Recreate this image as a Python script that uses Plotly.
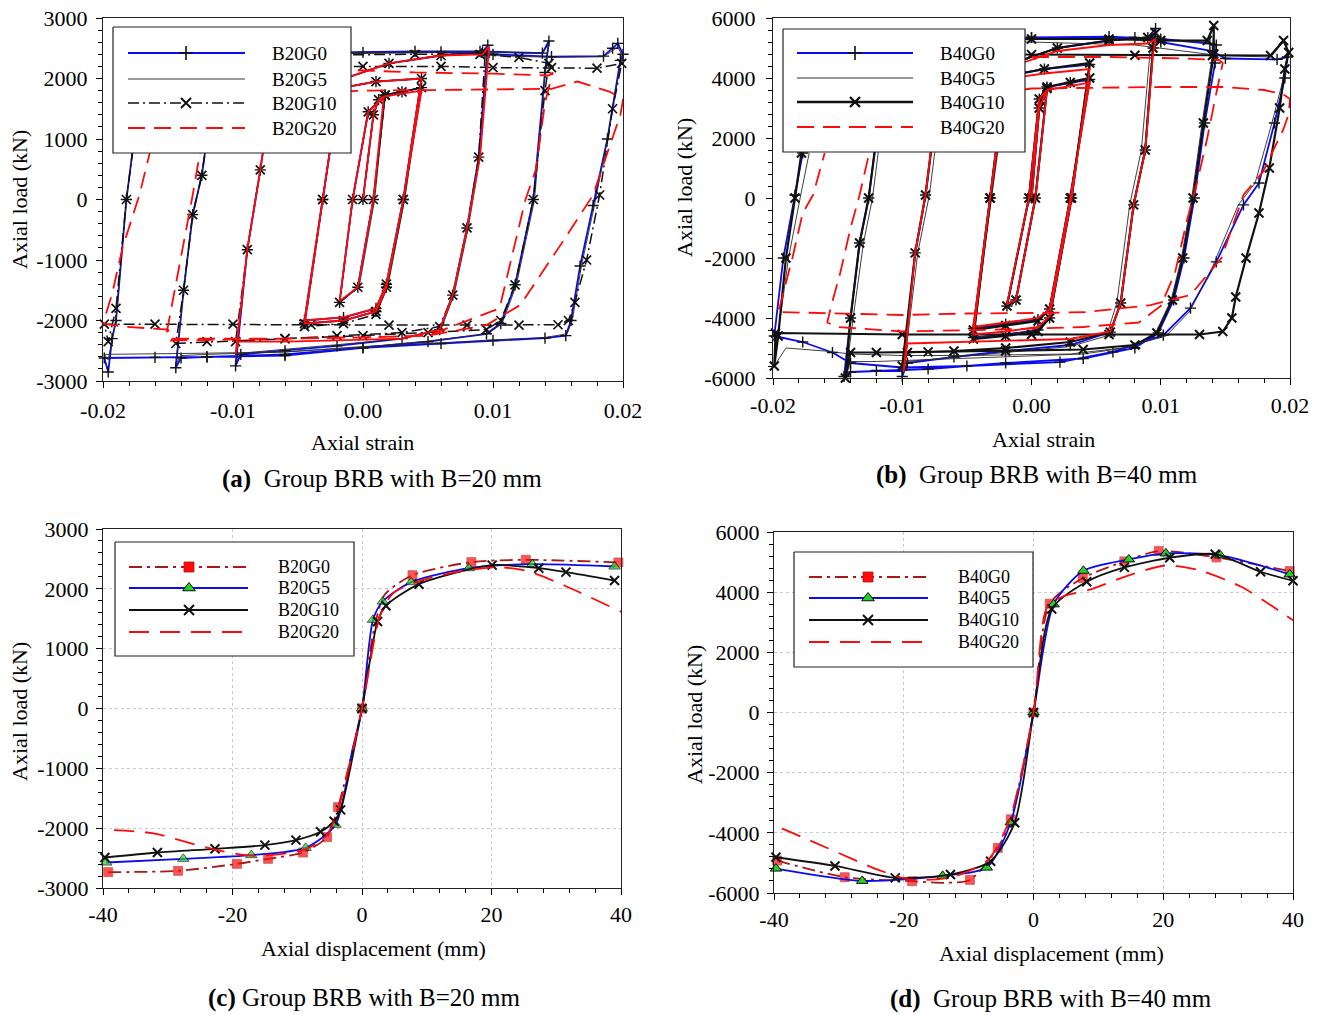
import plotly.graph_objects as go

W, H = 1320, 1015
FONT = "Liberation Serif"

# ---------------------------------------------------------------------------
# (a) hysteresis, B = 20 mm : axial strain vs axial load (kN)
# ---------------------------------------------------------------------------
a_names = ["B20G0", "B20G5", "B20G10", "B20G20"]

a_g0_strain = [
    0, 0.0008, 0.0012, 0.0017,
    0.0008, -0.0004, -0.0018,
    -0.0008, 0.0004, 0.0017,
    0.0030, 0.0045,
    0.0031, 0.0018, 0.0010, -0.0015, -0.0045,
    -0.0031, -0.0022, -0.0015, 0.0010, 0.0045,
    0.0031, 0.0018, 0.0010, -0.0015, -0.0045,
    -0.0031, -0.0022, -0.0014, 0.0020, 0.0060, 0.0092, 0.0096,
    0.0089, 0.0080, 0.0069, 0.0059, 0.0030, -0.0020, -0.0060, -0.0094, -0.0098,
    -0.0089, -0.0079, -0.0070, -0.0064, -0.0020, 0.0040, 0.0090, 0.0138, 0.0143,
    0.0140, 0.0131, 0.0117, 0.0106, 0.0095, 0.0050, 0.0000, -0.0060, -0.0120, -0.0140, -0.0144,
    -0.0138, -0.0131, -0.0124, -0.0115, -0.0108, -0.0060, 0.0000, 0.0060, 0.0100, 0.0145, 0.0185, 0.0192, 0.0196, 0.0200,
    0.0198, 0.0188, 0.0177, 0.0167, 0.0160, 0.0156, 0.0140, 0.0100, 0.0060, 0.0000, -0.0060, -0.0120, -0.0160, -0.0199, -0.0196,
    -0.0193, -0.0190, -0.0182, -0.0176, -0.0170,
]
a_g0_load = [
    0, 1400, 1650, 1720,
    0, -1450, -1700,
    0, 1450, 1730,
    1780, 1850,
    0, -1400, -1800, -1950, -2000,
    0, 1300, 1850, 1950, 2000,
    0, -1450, -1850, -2000, -2050,
    0, 1300, 2000, 2250, 2380, 2440, 2550,
    700, -470, -1580, -2150, -2300, -2420, -2500, -2560, -2750,
    -830, 490, 1800, 2350, 2430, 2450, 2450, 2420, 2620,
    2100, 0, -1410, -2050, -2220, -2350, -2450, -2560, -2600, -2620, -2780,
    -1500, -250, 400, 1800, 2300, 2400, 2430, 2440, 2400, 2360, 2370, 2500, 2580, 2400,
    2300, 1000, -100, -1100, -2000, -2250, -2290, -2330, -2380, -2450, -2580, -2600, -2610, -2620, -2850,
    -2300, -2000, 0, 1000, 1900,
]

a_g5_strain = [
    0, 0.0008, 0.0012, 0.0017,
    0.0009, -0.0003, -0.0018,
    -0.0008, 0.0004, 0.0017,
    0.0030, 0.0045,
    0.0032, 0.0019, 0.0011, -0.0015, -0.0045,
    -0.0031, -0.0022, -0.0015, 0.0010, 0.0045,
    0.0032, 0.0019, 0.0011, -0.0015, -0.0045,
    -0.0031, -0.0022, -0.0014, 0.0020, 0.0060, 0.0092, 0.0096,
    0.0090, 0.0081, 0.0070, 0.0060, 0.0030, -0.0020, -0.0060, -0.0094, -0.0098,
    -0.0089, -0.0079, -0.0070, -0.0064, -0.0020, 0.0040, 0.0090, 0.0138, 0.0143,
    0.0140, 0.0132, 0.0118, 0.0107, 0.0096, 0.0050, 0.0000, -0.0060, -0.0120, -0.0140, -0.0144,
    -0.0138, -0.0131, -0.0124, -0.0115, -0.0108, -0.0060, 0.0000, 0.0060, 0.0100, 0.0145, 0.0185, 0.0192, 0.0196, 0.0200,
    0.0198, 0.0188, 0.0178, 0.0168, 0.0161, 0.0157, 0.0140, 0.0100, 0.0060, 0.0000, -0.0060, -0.0120, -0.0160, -0.0199, -0.0196,
    -0.0193, -0.0190, -0.0182, -0.0176, -0.0170,
]
a_g5_load = [
    0, 1400, 1650, 1720,
    0, -1450, -1700,
    0, 1450, 1730,
    1780, 1850,
    0, -1400, -1800, -1950, -2000,
    0, 1300, 1850, 1950, 2000,
    0, -1450, -1850, -2000, -2050,
    0, 1300, 2000, 2250, 2380, 2430, 2520,
    700, -470, -1580, -2150, -2300, -2400, -2480, -2540, -2700,
    -830, 490, 1800, 2350, 2420, 2440, 2440, 2410, 2580,
    2100, 0, -1410, -2050, -2220, -2340, -2440, -2520, -2560, -2580, -2720,
    -1500, -250, 400, 1800, 2300, 2400, 2420, 2430, 2380, 2350, 2360, 2460, 2520, 2350,
    2250, 1000, -100, -1100, -2000, -2220, -2280, -2320, -2370, -2430, -2520, -2540, -2550, -2560, -2650,
    -2300, -2000, 0, 1000, 1900,
]

a_g10_strain = [
    0, 0.0008, 0.0012, 0.0017,
    0.0008, -0.0004, -0.0018,
    -0.0008, 0.0004, 0.0017,
    0.0030, 0.0045,
    0.0031, 0.0018, 0.0010, -0.0015, -0.0045,
    -0.0031, -0.0022, -0.0015, 0.0010, 0.0045,
    0.0031, 0.0018, 0.0010, -0.0015, -0.0045,
    -0.0031, -0.0022, -0.0014, 0.0020, 0.0060, 0.0094,
    0.0089, 0.0080, 0.0069, 0.0059, 0.0030, -0.0020, -0.0060, -0.0098,
    -0.0089, -0.0079, -0.0070, -0.0064, -0.0020, 0.0040, 0.0090, 0.0120, 0.0143,
    0.0140, 0.0131, 0.0117, 0.0106, 0.0095, 0.0050, 0.0000, -0.0060, -0.0120, -0.0144,
    -0.0138, -0.0131, -0.0124, -0.0115, -0.0108, -0.0060, 0.0000, 0.0060, 0.0100, 0.0145, 0.0180, 0.0199,
    0.0192, 0.0182, 0.0172, 0.0163, 0.0158, 0.0150, 0.0120, 0.0080, 0.0020, -0.0040, -0.0100, -0.0160, -0.0199,
    -0.0196, -0.0190, -0.0182, -0.0176, -0.0170,
]
a_g10_load = [
    0, 1400, 1650, 1720,
    0, -1450, -1700,
    0, 1450, 1730,
    1780, 1850,
    0, -1400, -1850, -2000, -2050,
    0, 1300, 1850, 1950, 2000,
    0, -1450, -1900, -2050, -2100,
    0, 1300, 2000, 2250, 2380, 2420,
    700, -470, -1580, -2100, -2200, -2250, -2300, -2350,
    -830, 490, 1800, 2300, 2390, 2400, 2400, 2350, 2250,
    1800, 0, -1410, -2000, -2150, -2200, -2250, -2300, -2350, -2380,
    -1500, -250, 400, 1700, 2150, 2200, 2200, 2200, 2180, 2180, 2170, 2250,
    1500, 74, -1000, -1700, -2000, -2070, -2075, -2075, -2075, -2070, -2060, -2060, -2060,
    -2350, -1800, 0, 1000, 1900,
]

# B20G20: the small cycles (solid) and the two large cycles (dashed)
a_g20_small_strain = [
    0, 0.0008, 0.0012, 0.0016,
    0.0008, -0.0004, -0.0018,
    -0.0008, 0.0004, 0.0016,
    0.0030, 0.0045,
    0.0031, 0.0018, 0.0010, -0.0015, -0.0045,
    -0.0031, -0.0022, -0.0015, 0.0010, 0.0045,
    0.0031, 0.0018, 0.0010, -0.0015, -0.0045,
    -0.0031, -0.0022, -0.0014, 0.0020, 0.0060, 0.0092, 0.0097,
    0.0090, 0.0080, 0.0069, 0.0059, 0.0030, -0.0020, -0.0060, -0.0096, -0.0098,
    -0.0089, -0.0079, -0.0070, -0.0064,
]
a_g20_small_load = [
    0, 1400, 1650, 1700,
    0, -1450, -1680,
    0, 1450, 1700,
    1750, 1800,
    0, -1400, -1800, -1950, -2000,
    0, 1300, 1850, 1950, 2000,
    0, -1450, -1850, -2000, -2050,
    0, 1300, 2000, 2250, 2380, 2400, 2530,
    700, -470, -1580, -2150, -2300, -2330, -2350, -2350, -2550,
    -830, 490, 1800, 2200,
]
a_g20_large_strain = [
    -0.0064, -0.0020, 0.0040, 0.0100, 0.0143, 0.0146,
    0.0140, 0.0133, 0.0125, 0.0117, 0.0105, 0.0050, 0.0000, -0.0060, -0.0110, -0.0148, -0.0151,
    -0.0145, -0.0138, -0.0131, -0.0122, -0.0110, -0.0050, 0.0000, 0.0060, 0.0145, 0.0165, 0.0190, 0.0200,
    0.0198, 0.0190, 0.0177, 0.0152, 0.0121, 0.0095, 0.0050, 0.0000, -0.0060, -0.0120, -0.0148, -0.0150, -0.0185, -0.0200,
    -0.0193, -0.0185, -0.0172, -0.0162, -0.0150,
]
a_g20_large_load = [
    2200, 2150, 2100, 2080, 2050, 2100,
    1600, 500, 0, -700, -1800, -2250, -2280, -2300, -2300, -2300, -2200,
    -1500, -700, 74, 1200, 1700, 1750, 1800, 1810, 1830, 1950, 1780, 1650,
    1400, 900, 74, -750, -1744, -2075, -2250, -2280, -2300, -2320, -2330, -2150, -2100, -2050,
    -1560, -800, 74, 950, 1600,
]

# ---------------------------------------------------------------------------
# (b) hysteresis, B = 40 mm
# ---------------------------------------------------------------------------
b_names = ["B40G0", "B40G5", "B40G10", "B40G20"]

b_g0_strain = [
    0, 0.0006, 0.0012,
    0.0003, -0.0012, -0.0019,
    -0.0002, 0.0006, 0.0012,
    0.0030, 0.0045,
    0.0030, 0.0014, 0.0005, -0.0020, -0.0045,
    -0.0032, -0.0024, -0.0015, 0.0010, 0.0045,
    0.0031, 0.0014, 0.0005, -0.0020, -0.0045,
    -0.0032, -0.0024, -0.0014, 0.0020, 0.0060, 0.0090, 0.0096,
    0.0094, 0.0088, 0.0079, 0.0069, 0.0061, 0.0030, -0.0020, -0.0060, -0.0096, -0.0100,
    -0.0090, -0.0082, -0.0075, -0.0070, -0.0060, 0.0000, 0.0060, 0.0100, 0.0138, 0.0143,
    0.0142, 0.0134, 0.0126, 0.0118, 0.0110, 0.0098, 0.0080, 0.0040, -0.0020, -0.0080, -0.0120, -0.0140, -0.0145,
    -0.0140, -0.0133, -0.0126, -0.0120, -0.0112, -0.0105, 0.0000, 0.0080, 0.0100, 0.0140, 0.0150, 0.0190, 0.0198,
    0.0196, 0.0188, 0.0176, 0.0164, 0.0143, 0.0123, 0.0102, 0.0063, 0.0022, -0.0050, -0.0100, -0.0140, -0.0154, -0.0177, -0.0199,
    -0.0192, -0.0183, -0.0177,
]
b_g0_load = [
    0, 3000, 3650,
    0, -3400, -3600,
    0, 3300, 3700,
    3850, 3950,
    0, -3700, -4050, -4200, -4350,
    0, 2500, 4100, 4300, 4450,
    0, -4000, -4400, -4550, -4650,
    0, 2800, 4500, 5000, 5250, 5350, 5650,
    5000, 1600, -230, -3500, -4470, -4900, -5100, -5300, -5500, -5950,
    -1830, 100, 2500, 4500, 5200, 5350, 5380, 5300, 5150, 5100,
    4500, 2500, 0, -2000, -3400, -4500, -5000, -5350, -5500, -5700, -5750, -5800, -5950,
    -4000, -1500, 0, 2000, 4500, 5200, 5350, 5350, 5200, 4900, 4650, 4620, 4700,
    4000, 2500, 500, -230, -2130, -3670, -4570, -5130, -5470, -5600, -5650, -5500, -5150, -4800, -4600,
    -2000, 100, 1500,
]

b_g5_strain = [
    0, 0.0006, 0.0012,
    0.0003, -0.0012, -0.0019,
    -0.0002, 0.0006, 0.0012,
    0.0030, 0.0045,
    0.0030, 0.0014, 0.0005, -0.0020, -0.0045,
    -0.0031, -0.0023, -0.0014, 0.0010, 0.0045,
    0.0030, 0.0013, 0.0004, -0.0020, -0.0045,
    -0.0031, -0.0023, -0.0013, 0.0020, 0.0060, 0.0090, 0.0096,
    0.0092, 0.0085, 0.0076, 0.0066, 0.0058, 0.0030, -0.0020, -0.0060, -0.0096, -0.0099,
    -0.0088, -0.0079, -0.0072, -0.0067, -0.0060, 0.0000, 0.0060, 0.0100, 0.0136, 0.0141,
    0.0140, 0.0132, 0.0124, 0.0116, 0.0108, 0.0096, 0.0080, 0.0040, -0.0020, -0.0080, -0.0120, -0.0140, -0.0144,
    -0.0138, -0.0130, -0.0123, -0.0117, -0.0110, -0.0103, 0.0000, 0.0080, 0.0120, 0.0145, 0.0185, 0.0195, 0.0199,
    0.0195, 0.0186, 0.0173, 0.0160, 0.0140, 0.0122, 0.0104, 0.0070, 0.0030, -0.0050, -0.0100, -0.0140, -0.0160, -0.0190, -0.0199,
    -0.0196, -0.0188, -0.0179, -0.0172,
]
b_g5_load = [
    0, 3000, 3650,
    0, -3400, -3600,
    0, 3300, 3700,
    3850, 3950,
    0, -3700, -4050, -4200, -4350,
    0, 2500, 4100, 4300, 4450,
    0, -4000, -4400, -4550, -4650,
    0, 2800, 4500, 5000, 5250, 5300, 5500,
    5000, 1600, -230, -3500, -4600, -4950, -5150, -5300, -5450, -5800,
    -1830, 100, 2500, 4500, 5200, 5300, 5300, 5250, 5200, 5700,
    4800, 2500, 0, -2000, -3400, -4500, -4950, -5200, -5300, -5400, -5450, -5450, -6000,
    -4000, -1500, 0, 2000, 4500, 5100, 5200, 5100, 4900, 4750, 4700, 5200, 4900,
    4000, 2500, 500, -230, -2300, -3800, -4600, -5000, -5200, -5250, -5250, -5200, -5100, -5000, -5600,
    -4500, -2000, 0, 1500,
]

b_g10_strain = [
    0, 0.0006, 0.0012,
    0.0003, -0.0012, -0.0019,
    -0.0002, 0.0006, 0.0012,
    0.0030, 0.0045,
    0.0030, 0.0014, 0.0005, -0.0020, -0.0045,
    -0.0032, -0.0024, -0.0015, 0.0010, 0.0045,
    0.0031, 0.0014, 0.0005, -0.0020, -0.0045,
    -0.0032, -0.0024, -0.0014, 0.0020, 0.0060, 0.0090, 0.0096,
    0.0094, 0.0088, 0.0079, 0.0069, 0.0061, 0.0030, -0.0020, -0.0060, -0.0096, -0.0100,
    -0.0090, -0.0082, -0.0075, -0.0070, -0.0060, 0.0000, 0.0060, 0.0100, 0.0136, 0.0141,
    0.0141, 0.0133, 0.0125, 0.0117, 0.0109, 0.0097, 0.0080, 0.0040, -0.0020, -0.0080, -0.0120, -0.0140, -0.0144,
    -0.0140, -0.0133, -0.0126, -0.0120, -0.0112, -0.0105, 0.0000, 0.0080, 0.0140, 0.0185, 0.0195, 0.0199,
    0.0196, 0.0192, 0.0184, 0.0176, 0.0166, 0.0158, 0.0155, 0.0148, 0.0130, 0.0060, 0.0000, -0.0100, -0.0198, -0.0199,
    -0.0196, -0.0190, -0.0183, -0.0178,
]
b_g10_load = [
    0, 3000, 3650,
    0, -3400, -3600,
    0, 3300, 3700,
    3850, 4000,
    0, -3700, -4100, -4250, -4400,
    0, 2500, 4100, 4300, 4500,
    0, -4000, -4450, -4600, -4700,
    0, 2800, 4500, 5000, 5250, 5350, 5500,
    5000, 1600, -230, -3500, -4470, -4800, -5000, -5100, -5150, -5600,
    -1830, 100, 2500, 4500, 5200, 5300, 5300, 5250, 5250, 5750,
    4800, 2500, 0, -2000, -3400, -4500, -4900, -5050, -5100, -5130, -5150, -5150, -6000,
    -4000, -1500, 0, 2000, 4500, 4800, 4780, 4760, 4750, 4750, 5250, 4850,
    4300, 3000, 1000, -500, -2000, -3300, -4000, -4450, -4550, -4550, -4550, -4550, -4500, -5600,
    -4600, -2000, 0, 1500,
]

# B40G20: small cycles (solid) and large cycles (dashed)
b_g20_small_strain = [
    0, 0.0006, 0.0012,
    0.0003, -0.0012, -0.0019,
    -0.0002, 0.0006, 0.0012,
    0.0030, 0.0045,
    0.0030, 0.0014, 0.0005, -0.0020, -0.0045,
    -0.0032, -0.0024, -0.0015, 0.0010, 0.0045,
    0.0031, 0.0014, 0.0005, -0.0020, -0.0045,
    -0.0032, -0.0024, -0.0014, 0.0020, 0.0060, 0.0090, 0.0096,
    0.0094, 0.0088, 0.0079, 0.0069, 0.0061, 0.0030, -0.0020, -0.0060, -0.0096, -0.0099,
    -0.0090, -0.0082, -0.0075, -0.0070, -0.0060,
]
b_g20_small_load = [
    0, 3000, 3600,
    0, -3400, -3550,
    0, 3300, 3600,
    3750, 3850,
    0, -3700, -4000, -4150, -4300,
    0, 2500, 4000, 4150, 4300,
    0, -3950, -4300, -4450, -4550,
    0, 2800, 4400, 4900, 5100, 5150, 5300,
    4800, 1600, -230, -3500, -4450, -4700, -4750, -4800, -4850, -5800,
    -1830, 100, 2500, 4400, 4750,
]
b_g20_large_strain = [
    -0.0060, 0.0000, 0.0060, 0.0120, 0.0145, 0.0148,
    0.0143, 0.0136, 0.0128, 0.0120, 0.0111, 0.0100, 0.0083, 0.0040, -0.0040, -0.0100, -0.0150, -0.0158,
    -0.0155, -0.0148, -0.0140, -0.0133, -0.0124, -0.0110, 0.0000, 0.0100, 0.0150, 0.0180, 0.0195, 0.0200,
    0.0199, 0.0195, 0.0179, 0.0164, 0.0147, 0.0123, 0.0092, 0.0043, 0.0014, -0.0050, -0.0100, -0.0150, -0.0197,
    -0.0195, -0.0185, -0.0177, -0.0169, -0.0160,
]
b_g20_large_load = [
    4750, 4700, 4700, 4650, 4600, 4500,
    3500, 2000, 500, -800, -2500, -3600, -4150, -4300, -4400, -4450, -4300, -4150,
    -3600, -2500, -1000, 100, 1800, 3000, 3650, 3700, 3700, 3600, 3450, 3300,
    2800, 2300, 870, 100, -2000, -3230, -3570, -3800, -3830, -3850, -3900, -3850, -3800,
    -3667, -2000, -500, 100, 1500,
]

# ---------------------------------------------------------------------------
# (c) skeleton curves, B = 20 mm : axial displacement (mm) vs axial load (kN)
# ---------------------------------------------------------------------------
c_names = ["B20G0", "B20G5", "B20G10", "B20G20"]

c_g0_disp = [-39.2, -28.4, -19.3, -14.5, -9.1, -5.4, -3.7, 0, 1.8, 3.5, 7.8, 16.9, 25.3, 39.6]
c_g0_load = [-2735, -2713, -2596, -2512, -2407, -2150, -1649, 0, 1300, 1900, 2228, 2446, 2485, 2440]
c_g0_marked = [1, 1, 1, 1, 1, 1, 1, 1, 0, 0, 1, 1, 1, 1]

c_g5_disp = [-39.5, -27.6, -17.1, -8.7, -4.1, -1.5, 0, 1.7, 3.2, 7.6, 16.5, 26.3, 39.0]
c_g5_load = [-2574, -2512, -2451, -2329, -1944, -700, 0, 1482, 1788, 2111, 2345, 2412, 2373]
c_g5_marked = [1, 1, 1, 1, 1, 0, 1, 1, 1, 1, 1, 1, 1]

c_g10_disp = [-39.7, -31.6, -22.7, -15.0, -10.2, -6.4, -4.3, -3.3, 0, 2.4, 3.7, 8.8, 20.1, 27.3, 31.5, 39.0]
c_g10_load = [-2490, -2407, -2345, -2284, -2200, -2061, -1883, -1694, 0, 1454, 1716, 2078, 2396, 2345, 2279, 2139]

c_g20_disp = [-38.3, -32.4, -22.6, -16.7, -8.9, -5.6, -3.7, 0, 1.9, 2.9, 4.8, 9.4, 16.6, 21.2, 25.8, 31.6, 40.0]
c_g20_load = [-2033, -2084, -2362, -2462, -2362, -2139, -1694, 0, 1148, 1593, 1927, 2150, 2317, 2362, 2290, 2039, 1616]

# ---------------------------------------------------------------------------
# (d) skeleton curves, B = 40 mm
# ---------------------------------------------------------------------------
d_names = ["B40G0", "B40G5", "B40G10", "B40G20"]

d_g0_disp = [-39.5, -29.1, -18.7, -13.5, -9.8, -5.5, -3.5, 0, 2.5, 7.6, 14.0, 19.3, 28.2, 39.5]
d_g0_load = [-4923, -5476, -5608, -5660, -5564, -4500, -3551, 0, 3617, 4469, 5022, 5365, 5155, 4701]
d_g0_marked = [1, 1, 1, 0, 1, 1, 1, 1, 1, 1, 1, 1, 1, 1]

d_g5_disp = [-39.7, -26.4, -14.0, -7.2, -3.5, 0, 3.1, 7.7, 14.7, 20.4, 28.8, 39.5]
d_g5_load = [-5188, -5597, -5431, -5155, -3650, 0, 3595, 4712, 5088, 5288, 5221, 4591]

d_g10_disp = [-39.7, -30.6, -21.3, -12.8, -6.6, -2.9, 0, 2.8, 8.2, 14.0, 21.0, 28.0, 35.0, 40.0]
d_g10_load = [-4812, -5100, -5498, -5387, -4945, -3662, 0, 3440, 4347, 4823, 5144, 5265, 4679, 4380]

d_g20_disp = [-38.8, -31.7, -23.9, -18.7, -12.2, -7.0, -3.7, 0, 2.1, 4.7, 8.7, 13.9, 20.4, 25.6, 32.1, 40.0]
d_g20_load = [-3850, -4513, -5232, -5564, -5453, -4900, -3573, 0, 3507, 3872, 4082, 4502, 4889, 4723, 4170, 3064]

# tick labels
strain_ticks = [-0.02, -0.01, 0.0, 0.01, 0.02]
strain_labels = ["-0.02", "-0.01", "0.00", "0.01", "0.02"]
disp_ticks = [-40, -20, 0, 20, 40]
disp_labels = ["-40", "-20", "0", "20", "40"]
load3_ticks = [-3000, -2000, -1000, 0, 1000, 2000, 3000]
load3_labels = ["-3000", "-2000", "-1000", "0", "1000", "2000", "3000"]
load6_ticks = [-6000, -4000, -2000, 0, 2000, 4000, 6000]
load6_labels = ["-6000", "-4000", "-2000", "0", "2000", "4000", "6000"]

for xs, ys in [(a_g0_strain, a_g0_load), (a_g5_strain, a_g5_load), (a_g10_strain, a_g10_load),
               (a_g20_small_strain, a_g20_small_load), (a_g20_large_strain, a_g20_large_load),
               (b_g0_strain, b_g0_load), (b_g5_strain, b_g5_load), (b_g10_strain, b_g10_load),
               (b_g20_small_strain, b_g20_small_load), (b_g20_large_strain, b_g20_large_load),
               (c_g0_disp, c_g0_load), (c_g5_disp, c_g5_load), (c_g10_disp, c_g10_load),
               (c_g20_disp, c_g20_load), (d_g0_disp, d_g0_load), (d_g5_disp, d_g5_load),
               (d_g10_disp, d_g10_load), (d_g20_disp, d_g20_load)]:
    assert len(xs) == len(ys), (len(xs), len(ys))

# ---------------------------------------------------------------------------
# styles
# ---------------------------------------------------------------------------
BLUE = "#0b0bf0"
RED = "#ff0a0a"
DARKRED = "#a81818"
GREEN = "#22d422"
INK = "#111111"

DASH_A10 = "11px,4px,2px,4px"
DASH_RED = "17px,9px"
DASH_C0 = "13px,5px,3px,5px"
DASH_C20 = "20px,11px"

fig = go.Figure()


def add(x, y, ax, color, width, dash="solid", symbol=None, msize=8, mwidth=1.4,
        mcolor=INK, mline=INK, shape="linear", marked=None):
    kw = dict(x=x, y=y, xaxis="x" + ax, yaxis="y" + ax, showlegend=False,
              hoverinfo="skip", cliponaxis=False,
              line=dict(color=color, width=width, dash=dash, shape=shape))
    if shape == "spline":
        kw["line"]["smoothing"] = 0.7
    if symbol:
        sizes = msize if marked is None else [msize if m else 0 for m in marked]
        kw["mode"] = "lines+markers"
        kw["marker"] = dict(symbol=symbol, size=sizes, color=mcolor,
                            line=dict(color=mline, width=mwidth))
    else:
        kw["mode"] = "lines"
    fig.add_trace(go.Scatter(**kw))


# (a)
add(a_g0_strain, a_g0_load, "", BLUE, 1.8, symbol="cross-thin", msize=8, mwidth=1.4)
add(a_g5_strain, a_g5_load, "", "#2a2a2a", 0.9)
add(a_g10_strain, a_g10_load, "", INK, 1.5, dash=DASH_A10, symbol="x-thin", msize=9, mwidth=1.7)
add(a_g20_small_strain, a_g20_small_load, "", RED, 1.8)
add(a_g20_large_strain, a_g20_large_load, "", RED, 1.8, dash=DASH_RED)

# (b)
add(b_g0_strain, b_g0_load, "2", BLUE, 1.8, symbol="cross-thin", msize=8, mwidth=1.4)
add(b_g5_strain, b_g5_load, "2", "#2a2a2a", 0.9)
add(b_g10_strain, b_g10_load, "2", INK, 2.2, symbol="x-thin", msize=9, mwidth=2.0)
add(b_g20_small_strain, b_g20_small_load, "2", RED, 1.8)
add(b_g20_large_strain, b_g20_large_load, "2", RED, 1.8, dash=DASH_RED)

# (c)
add(c_g0_disp, c_g0_load, "3", DARKRED, 1.8, dash=DASH_C0, symbol="square", msize=9,
    mwidth=0.8, mcolor=RED, mline=DARKRED, shape="spline", marked=c_g0_marked)
add(c_g5_disp, c_g5_load, "3", BLUE, 1.8, symbol="triangle-up", msize=10, mwidth=1,
    mcolor=GREEN, mline=INK, shape="spline", marked=c_g5_marked)
add(c_g10_disp, c_g10_load, "3", INK, 1.8, symbol="x-thin", msize=9, mwidth=2,
    shape="spline")
add(c_g20_disp, c_g20_load, "3", RED, 1.8, dash=DASH_C20, shape="spline")

# (d)
add(d_g0_disp, d_g0_load, "4", DARKRED, 1.8, dash=DASH_C0, symbol="square", msize=9,
    mwidth=0.8, mcolor=RED, mline=DARKRED, shape="spline", marked=d_g0_marked)
add(d_g5_disp, d_g5_load, "4", BLUE, 1.8, symbol="triangle-up", msize=10, mwidth=1,
    mcolor=GREEN, mline=INK, shape="spline")
add(d_g10_disp, d_g10_load, "4", INK, 1.8, symbol="x-thin", msize=9, mwidth=2,
    shape="spline")
add(d_g20_disp, d_g20_load, "4", RED, 1.8, dash=DASH_C20, shape="spline")

# ---------------------------------------------------------------------------
# legends, drawn on a full-page pixel overlay so the sample lines can be long
# ---------------------------------------------------------------------------
annotations = []


def legend(box, rows, line_x, mark_x, text_x, names, styles, fsize):
    x0, x1, y0, y1 = box
    fig.add_trace(go.Scatter(x=[x0, x1, x1, x0, x0], y=[y0, y0, y1, y1, y0],
                             xaxis="x5", yaxis="y5", mode="lines", fill="toself",
                             fillcolor="white", line=dict(color="#222", width=1.2),
                             hoverinfo="skip", showlegend=False))
    for yy, name, st in zip(rows, names, styles):
        fig.add_trace(go.Scatter(x=list(line_x), y=[yy, yy], xaxis="x5", yaxis="y5",
                                 mode="lines", line=st["line"], hoverinfo="skip",
                                 showlegend=False))
        if "marker" in st:
            fig.add_trace(go.Scatter(x=[mark_x], y=[yy], xaxis="x5", yaxis="y5",
                                     mode="markers", marker=st["marker"],
                                     hoverinfo="skip", showlegend=False))
        annotations.append(dict(x=text_x, y=yy, xref="x5", yref="y5", text=name,
                                showarrow=False, xanchor="left", yanchor="middle",
                                font=dict(family=FONT, size=fsize, color="black")))


top_a = [
    dict(line=dict(color=BLUE, width=2),
         marker=dict(symbol="cross-thin", size=10, line=dict(color=INK, width=1.6))),
    dict(line=dict(color="#333", width=1)),
    dict(line=dict(color=INK, width=1.6, dash=DASH_A10),
         marker=dict(symbol="x-thin", size=10, line=dict(color=INK, width=2))),
    dict(line=dict(color=RED, width=1.8, dash=DASH_RED)),
]
top_b = [
    dict(line=dict(color=BLUE, width=2),
         marker=dict(symbol="cross-thin", size=10, line=dict(color=INK, width=1.6))),
    dict(line=dict(color="#333", width=1)),
    dict(line=dict(color=INK, width=2.4),
         marker=dict(symbol="x-thin", size=10, line=dict(color=INK, width=2.4))),
    dict(line=dict(color=RED, width=1.8, dash=DASH_RED)),
]
bottom = [
    dict(line=dict(color=DARKRED, width=1.8, dash=DASH_C0),
         marker=dict(symbol="square", size=10, color=RED, line=dict(color=DARKRED, width=0.8))),
    dict(line=dict(color=BLUE, width=1.8),
         marker=dict(symbol="triangle-up", size=11, color=GREEN, line=dict(color=INK, width=1))),
    dict(line=dict(color=INK, width=1.8),
         marker=dict(symbol="x-thin", size=10, line=dict(color=INK, width=2))),
    dict(line=dict(color=RED, width=1.8, dash=DASH_C20)),
]

legend((113, 351, 27, 153), [53, 79, 103, 128], (128, 245), 186, 270, a_names, top_a, 19)
legend((783, 1025, 29, 152), [53, 78, 102, 127], (797, 913), 855, 938, b_names, top_b, 19)
legend((115, 354, 542, 656), [567, 588, 610, 632], (129, 248), 189, 276, c_names, bottom, 18)
legend((794, 1033, 552, 667), [577, 598, 620, 642], (809, 928), 868, 956, d_names, bottom, 18)

# ---------------------------------------------------------------------------
# titles and captions
# ---------------------------------------------------------------------------


def text(x, y, s, size, angle=0):
    annotations.append(dict(x=x, y=y, xref="x5", yref="y5", text=s, showarrow=False,
                            xanchor="center", yanchor="middle", textangle=angle,
                            font=dict(family=FONT, size=size, color="black")))


text(362, 442, "Axial strain", 22)
text(1043, 439, "Axial strain", 22)
text(373, 948, "Axial displacement (mm)", 22)
text(1051, 953, "Axial displacement (mm)", 22)
text(19, 200, "Axial load (kN)", 22, -90)
text(684, 188, "Axial load (kN)", 22, -90)
text(19, 712, "Axial load (kN)", 22, -90)
text(694, 715, "Axial load (kN)", 22, -90)

text(382, 479, "<b>(a)</b>\u00a0\u00a0Group BRB with B=20 mm", 25)
text(1037, 475, "<b>(b)</b>\u00a0\u00a0Group BRB with B=40 mm", 25)
text(364, 998, "<b>(c)</b> Group BRB with B=20 mm", 25)
text(1051, 999, "<b>(d)</b>\u00a0\u00a0Group BRB with B=40 mm", 25)

# ---------------------------------------------------------------------------
# axes
# ---------------------------------------------------------------------------


def axis(dom, rng, tv, tt, minor, anchor, grid, standoff):
    return dict(domain=dom, range=rng, anchor=anchor, tickmode="array",
                tickvals=tv, ticktext=tt, ticks="outside", ticklen=6, tickwidth=1,
                tickcolor="black", showline=True, mirror=True, linecolor="#222",
                linewidth=1.2, showgrid=grid, gridcolor="#c9c9c9", griddash="dot",
                gridwidth=1, zeroline=False, ticklabelstandoff=standoff,
                automargin=False,
                tickfont=dict(family=FONT, size=22, color="black"),
                minor=dict(tickmode="linear", tick0=rng[0], dtick=minor,
                           ticks="outside", ticklen=3.5, tickcolor="black",
                           showgrid=False))


def xd(a, b):
    return [a / W, b / W]


def yd(top, bot):
    return [1 - bot / H, 1 - top / H]


fig.update_layout(
    template="none",
    width=W, height=H, autosize=False,
    margin=dict(l=0, r=0, t=0, b=0, pad=0, autoexpand=False),
    paper_bgcolor="white", plot_bgcolor="rgba(0,0,0,0)", showlegend=False,
    xaxis=axis(xd(103, 623), [-0.02, 0.02], strain_ticks, strain_labels, 0.002, "y", False, 3),
    yaxis=axis(yd(18, 381), [-3000, 3000], load3_ticks, load3_labels, 200, "x", False, 4),
    xaxis2=axis(xd(773, 1290), [-0.02, 0.02], strain_ticks, strain_labels, 0.002, "y2", False, 1),
    yaxis2=axis(yd(18, 378), [-6000, 6000], load6_ticks, load6_labels, 400, "x2", False, 6),
    xaxis3=axis(xd(103, 621), [-40, 40], disp_ticks, disp_labels, 4, "y3", True, 0),
    yaxis3=axis(yd(529, 888), [-3000, 3000], load3_ticks, load3_labels, 200, "x3", True, 3),
    xaxis4=axis(xd(774, 1293), [-40, 40], disp_ticks, disp_labels, 4, "y4", True, 0),
    yaxis4=axis(yd(532, 893), [-6000, 6000], load6_ticks, load6_labels, 400, "x4", True, 3),
    xaxis5=dict(domain=[0, 1], range=[0, W], anchor="y5", visible=False,
                fixedrange=True, automargin=False),
    yaxis5=dict(domain=[0, 1], range=[H, 0], anchor="x5", visible=False,
                fixedrange=True, automargin=False),
    annotations=annotations,
)

fig.write_html("out.html")
